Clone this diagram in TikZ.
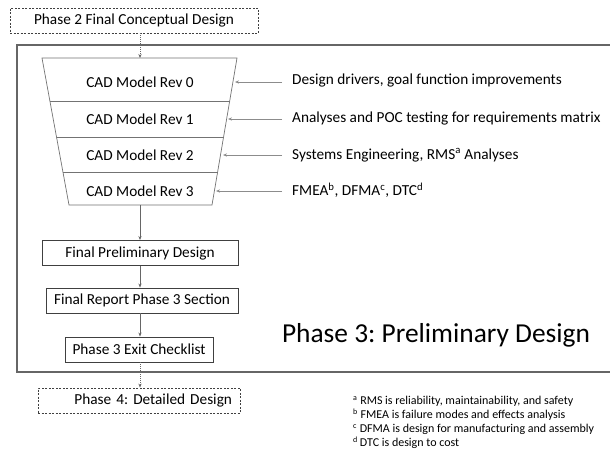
\documentclass[tikz,border=0pt]{standalone}
\usepackage{fontspec}
\setmainfont{Carlito}
\usetikzlibrary{arrows.meta,calc}
\begin{document}
\frenchspacing
\begin{tikzpicture}[x=1pt,y=-1pt,
  txt/.style={font=\fontsize{15.3}{18}\selectfont, inner sep=0pt},
  boxed/.style={txt, draw=black!75, line width=0.9pt, minimum height=25pt},
  dashbox/.style={txt, draw=black!75, line width=0.8pt, dash pattern=on 2pt off 1.5pt, minimum height=25pt},
  trap/.style={draw=black!55, line width=0.7pt},
  conn/.style={draw=black!60, line width=0.7pt, -{Stealth[length=4pt,width=3.2pt]}},
  dconn/.style={conn, dash pattern=on 1pt off 1pt},
  feed/.style={draw=black!45, line width=0.7pt, -{Stealth[length=4pt,width=3.2pt]}},
  lab/.style={txt, anchor=west}]
\useasboundingbox (0,0) rectangle (610,453);
\fill[white] (0,0) rectangle (610,453);

% outer phase 3 frame (right edge beyond page)
\draw[draw=black!60, line width=1.2pt] (630,45) -- (17,45) -- (17,372) -- (630,372);

% top dashed box
\node[dashbox, minimum width=248pt] (p2) at (134,20.5) {Phase 2 Final Conceptual Design};

% trapezoid
\coordinate (tl) at (42,58);
\coordinate (tr) at (237,58);
\coordinate (br) at (212,205);
\coordinate (bl) at (69,205);
\coordinate (tt) at (140,58);
\coordinate (tb) at (140,205);
\draw[trap] (tl) -- (tr) -- (br) -- (bl) -- cycle;
\draw[trap] ($(tl)!0.2925!(bl)$) -- ($(tr)!0.2925!(br)$);
\draw[trap] ($(tl)!0.5374!(bl)$) -- ($(tr)!0.5374!(br)$);
\draw[trap] ($(tl)!0.7755!(bl)$) -- ($(tr)!0.7755!(br)$);

\node[txt] (r0) at (140,82) {CAD Model Rev 0};
\node[txt] (r1) at (140,119) {CAD Model Rev 1};
\node[txt] (r2) at (140,155) {CAD Model Rev 2};
\node[txt] (r3) at (140,191) {CAD Model Rev 3};

% right-side inputs
\node[lab] (l0) at (292,81) {Design drivers, goal function improvements};
\node[lab] (l1) at (292,118) {Analyses and POC testing for requirements matrix};
\node[lab] (l2) at (292,155) {Systems Engineering, RMS\textsuperscript{a} Analyses};
\node[lab] (l3) at (292,190) {FMEA\textsuperscript{b}, DFMA\textsuperscript{c}, DTC\textsuperscript{d}};

\coordinate (e0) at (235,82);
\coordinate (e1) at (228,119);
\coordinate (e2) at (223,155);
\coordinate (e3) at (216,191);
\draw[feed] ([xshift=-10pt]l0.west |- e0) -- (e0);
\draw[feed] ([xshift=-10pt]l1.west |- e1) -- (e1);
\draw[feed] ([xshift=-10pt]l2.west |- e2) -- (e2);
\draw[feed] ([xshift=-10pt]l3.west |- e3) -- (e3);

% lower boxes
\node[boxed, minimum width=196pt] (fpd) at (140,253) {Final Preliminary Design};
\node[boxed, minimum width=192pt] (frp) at (142,300.5) {Final Report Phase 3 Section};
\node[boxed, minimum width=148pt] (ec) at (139,349.5) {Phase 3 Exit Checklist};
\node[dashbox, minimum width=202pt, inner xsep=8pt, text width=186pt, align=right] (p4) at (139,400.5) {Phase 4: Detailed Design};

% connectors
\draw[dconn] (tt |- p2.south) -- (tt);
\draw[conn] (tb) -- (tb |- fpd.north);
\draw[conn] (tb |- fpd.south) -- (tb |- frp.north);
\draw[conn] (tb |- frp.south) -- (tb |- ec.north);
\draw[dconn] (tb |- ec.south) -- (tb |- p4.north);

% phase title
\node[inner sep=0pt, font=\fontsize{27.4}{32}\selectfont] (title) at (436,335) {Phase 3: Preliminary Design};

% footnotes
\node[inner sep=0pt, anchor=north west, align=left, font=\fontsize{12}{14}\selectfont] (notes) at (353,396)
 {\textsuperscript{a} RMS is reliability, maintainability, and safety\\
  \textsuperscript{b} FMEA is failure modes and effects analysis\\
  \textsuperscript{c} DFMA is design for manufacturing and assembly\\
  \textsuperscript{d}\,DTC is design to cost};
\end{tikzpicture}
\end{document}
